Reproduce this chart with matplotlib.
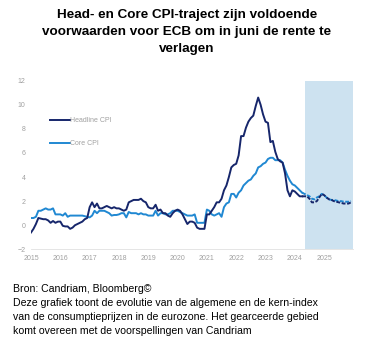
import numpy as np
import matplotlib
matplotlib.use("Agg")
import matplotlib.pyplot as plt

plt.rcParams['font.family'] = ['Liberation Sans', 'DejaVu Sans']

# ---------------------------
# Data (maandelijks, jan 2015 - apr 2024, daarna prognose tot dec 2025)
# ---------------------------
start_year = 2015
headline = [
    -0.6, -0.3, 0.1, 0.6, 0.55, 0.5, 0.5, 0.4, 0.2, 0.35, 0.2, 0.3,      # 2015
    0.3, -0.05, -0.1, -0.1, -0.3, -0.2, 0.0, 0.1, 0.2, 0.3, 0.5, 0.6,    # 2016
    1.5, 1.9, 1.5, 1.8, 1.4, 1.4, 1.5, 1.6, 1.5, 1.4, 1.5, 1.4,          # 2017
    1.4, 1.3, 1.2, 1.3, 1.9, 2.0, 2.1, 2.1, 2.1, 2.2, 2.0, 1.9,          # 2018
    1.5, 1.4, 1.4, 1.7, 1.2, 1.3, 1.0, 1.0, 0.8, 0.7, 1.0, 1.2,          # 2019
    1.3, 1.2, 0.9, 0.5, 0.1, 0.3, 0.3, 0.2, -0.2, -0.3, -0.3, -0.3,      # 2020
    0.9, 0.9, 1.2, 1.5, 1.9, 1.9, 2.2, 2.9, 3.3, 4.0, 4.8, 5.0,          # 2021
    5.1, 5.8, 7.4, 7.4, 8.1, 8.6, 8.9, 9.1, 9.9, 10.6, 10.0, 9.2,        # 2022
    8.6, 8.5, 6.9, 7.0, 6.1, 5.5, 5.3, 5.2, 4.3, 2.9, 2.4, 2.9,          # 2023
    2.8, 2.6, 2.4, 2.4,                                                   # 2024
]
core = [
    0.6, 0.6, 0.7, 1.2, 1.2, 1.3, 1.4, 1.3, 1.3, 1.4, 0.9, 0.9,          # 2015
    0.9, 0.8, 1.0, 0.7, 0.8, 0.8, 0.8, 0.8, 0.8, 0.8, 0.75, 0.7,         # 2016
    0.65, 0.8, 1.2, 1.0, 1.2, 1.2, 1.2, 1.1, 1.0, 0.8, 0.85, 0.85,       # 2017
    0.9, 1.0, 1.0, 0.65, 1.1, 1.0, 1.0, 1.0, 0.9, 1.0, 0.9, 0.9,         # 2018
    0.8, 0.8, 0.8, 1.2, 0.8, 1.0, 1.0, 0.9, 0.9, 1.0, 1.2, 1.2,          # 2019
    1.2, 1.1, 1.0, 0.9, 0.8, 0.8, 0.8, 0.9, 0.2, 0.2, 0.2, 0.2,          # 2020
    1.3, 1.2, 0.9, 0.8, 0.9, 1.0, 0.7, 1.5, 1.8, 1.9, 2.6, 2.6,          # 2021
    2.3, 2.7, 2.9, 3.3, 3.5, 3.7, 3.8, 4.1, 4.3, 4.8, 4.9, 5.1,          # 2022
    5.2, 5.5, 5.6, 5.6, 5.4, 5.4, 5.4, 5.2, 4.6, 4.1, 3.7, 3.4,          # 2023
    3.3, 3.1, 2.9, 2.7,                                                   # 2024
]
# prognose Candriam (apr 2024 - dec 2025)
headline_fc = [2.4, 2.4, 2.4, 2.2, 1.9, 1.9, 2.0, 2.3, 2.6, 2.5, 2.3,
               2.15, 2.1, 2.0, 1.95, 1.9, 1.85, 1.8, 1.8, 1.8, 1.9]
core_fc = [2.7, 2.6, 2.5, 2.4, 2.2, 2.15, 2.3, 2.4, 2.6, 2.5, 2.3,
           2.15, 2.1, 2.1, 2.05, 2.0, 2.0, 1.95, 1.95, 1.95, 2.0]
forecast_start = 2024 + 4 / 12
years = list(range(2015, 2026))

title = ("Head- en Core CPI-traject zijn voldoende\n"
         "voorwaarden voor ECB om in juni de rente te\n"
         "verlagen")
caption = ("Bron: Candriam, Bloomberg©\n"
           "Deze grafiek toont de evolutie van de algemene en de kern-index\n"
           "van de consumptieprijzen in de eurozone. Het gearceerde gebied\n"
           "komt overeen met de voorspellingen van Candriam")

# ---------------------------
# Grafiek
# ---------------------------
navy = '#16266b'
blue = '#2088d2'

x_hist = start_year + np.arange(len(headline)) / 12
x_fc = x_hist[-1] + np.arange(len(headline_fc)) / 12

fig = plt.figure(figsize=(3.74, 3.58), dpi=100)
ax = fig.add_axes([0.083, 0.3036, 0.862, 0.471])

ax.axvspan(forecast_start, 2026, color='#cde2f0', lw=0, zorder=0)
ax.plot(x_hist, core, color=blue, lw=1.4, label='Core CPI', zorder=2)
ax.plot(x_hist, headline, color=navy, lw=1.4, label='Headline CPI', zorder=3)
ax.plot(x_fc, core_fc, color=blue, lw=1.4, ls=(0, (2, 0.8)), zorder=2)
ax.plot(x_fc, headline_fc, color=navy, lw=1.4, ls=(0, (2, 0.8)), zorder=3)

ax.set_xlim(2015, 2026)
ax.set_ylim(-2, 12)
ax.set_yticks(range(-2, 13, 2))
ax.set_xticks(years)
ax.tick_params(length=0, labelsize=5, colors='#a0a0a0', pad=4)
for s in ['top', 'right', 'left']:
    ax.spines[s].set_visible(False)
ax.spines['bottom'].set_color('#e0e0e0')
ax.spines['bottom'].set_linewidth(0.6)

h, l = ax.get_legend_handles_labels()
ax.legend(h[::-1], l[::-1], loc='upper left', bbox_to_anchor=(0.04, 0.82),
          frameon=False, fontsize=5, labelcolor='#a0a0a0', handlelength=2.8,
          handletextpad=0.0, labelspacing=2.3)

fig.text(0.5, 0.975, title, ha='center', va='top', fontsize=9.7,
         fontweight='bold', linespacing=1.55)
fig.text(0.035, 0.207, caption, ha='left', va='top', fontsize=7.6,
         linespacing=1.52)

fig.savefig('out.png', dpi=100)
